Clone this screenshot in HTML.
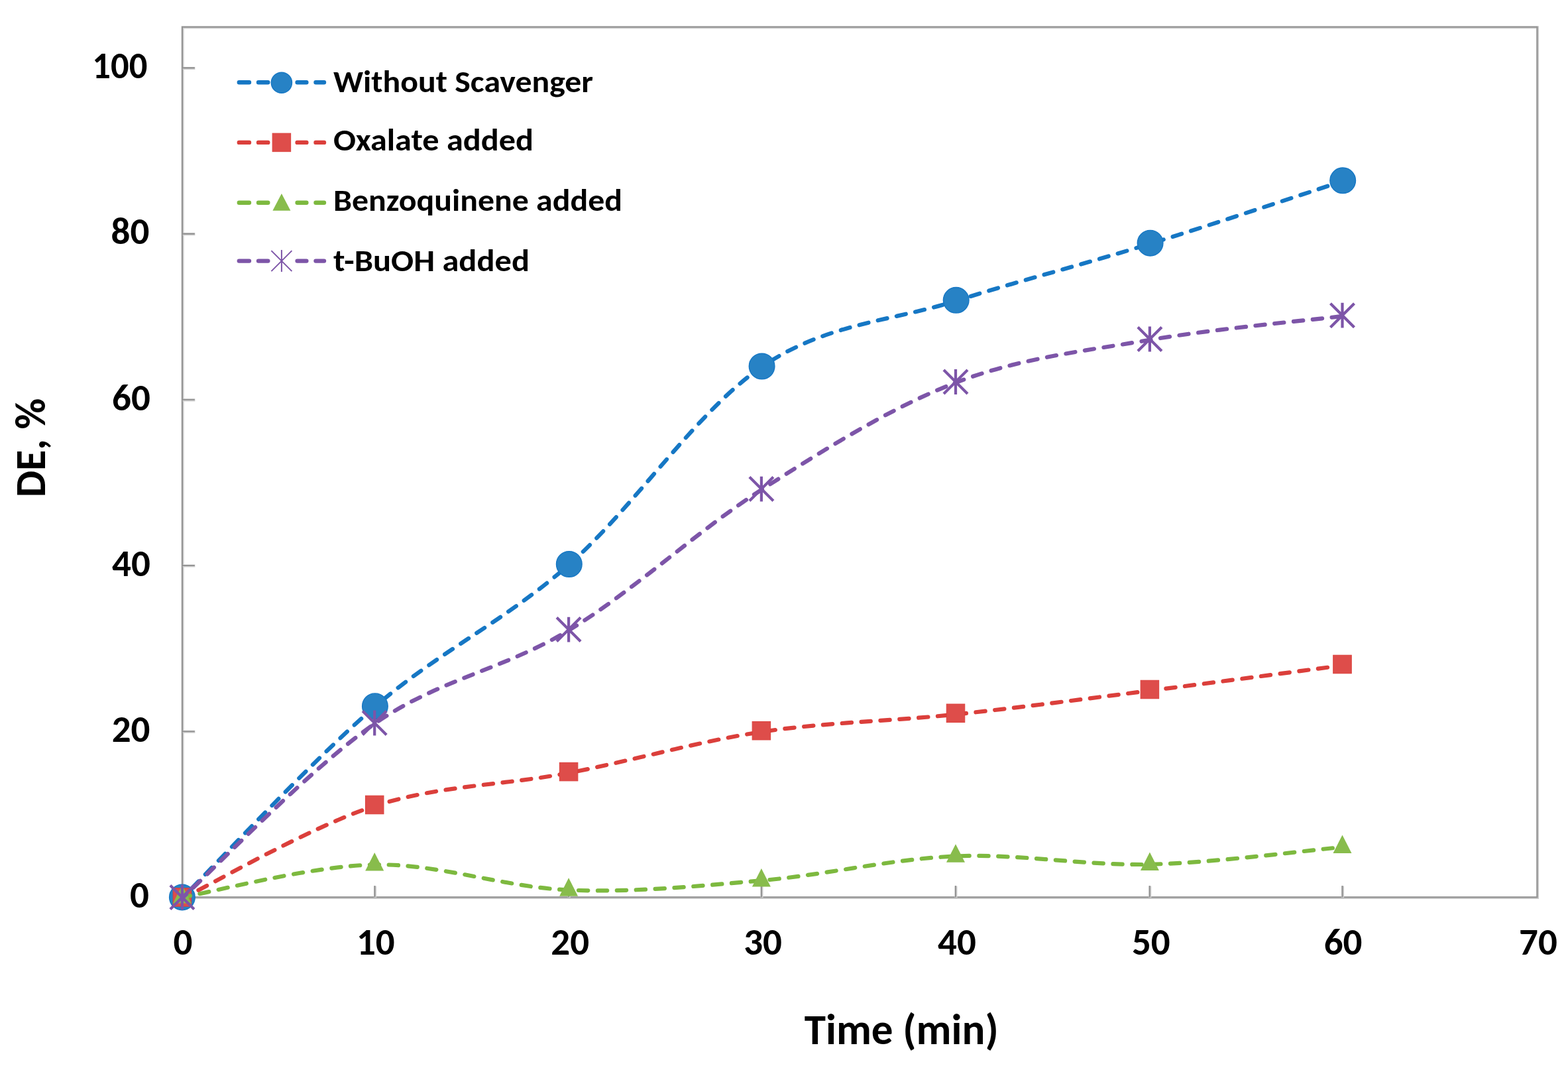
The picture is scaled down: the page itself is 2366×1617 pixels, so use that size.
<!DOCTYPE html><html><head><meta charset="utf-8"><title>DE vs Time</title><style>html,body{margin:0;padding:0;background:#fff;overflow:hidden}svg{display:block}text{font-size-adjust:0.4849}</style></head><body>
<svg width="2366" height="1617" viewBox="0 0 2366 1617">
<rect width="2366" height="1617" fill="#fff"/>
<rect x="275.60" y="41.30" width="2044.50" height="1312.70" fill="none" stroke="#cfcfcf" stroke-width="4"/>
<rect x="275.00" y="40.70" width="2044.50" height="1312.70" fill="none" stroke="#939393" stroke-width="2.1"/>
<path d="M275.00,1103.20 H293.8 M275.00,853.00 H293.8 M275.00,602.80 H293.8 M275.00,352.60 H293.8 M275.00,102.40 H293.8 M565.40,1353.40 V1336 M858.10,1353.40 V1336 M1148.90,1353.40 V1336 M1441.90,1353.40 V1336 M1734.70,1353.40 V1336 M2025.50,1353.40 V1336" stroke="#cfcfcf" stroke-width="4" fill="none" transform="translate(0.6,0.6)"/>
<path d="M275.00,1103.20 H293.8 M275.00,853.00 H293.8 M275.00,602.80 H293.8 M275.00,352.60 H293.8 M275.00,102.40 H293.8 M565.40,1353.40 V1336 M858.10,1353.40 V1336 M1148.90,1353.40 V1336 M1441.90,1353.40 V1336 M1734.70,1353.40 V1336 M2025.50,1353.40 V1336" stroke="#939393" stroke-width="2.1" fill="none"/>
<path d="M274.90,1354.60 C323.28,1306.57 468.00,1150.13 565.20,1066.40 C662.40,982.67 760.82,937.65 858.10,852.20 C955.38,766.75 1051.58,620.07 1148.90,553.70 C1246.22,487.33 1344.33,484.97 1442.00,454.00 C1539.67,423.03 1637.65,397.98 1734.90,367.90 C1832.15,337.82 1977.07,289.23 2025.50,273.50" fill="none" stroke="#1677C4" stroke-width="6.2" stroke-dasharray="14.30 14.62" stroke-dashoffset="7.80" stroke-linecap="round"/>
<circle cx="274.90" cy="1353.40" r="19.30" fill="#2782C5" stroke="#1677C4" stroke-width="1.4"/>
<circle cx="565.90" cy="1065.20" r="19.30" fill="#2782C5" stroke="#1677C4" stroke-width="1.4"/>
<circle cx="858.80" cy="851.00" r="19.30" fill="#2782C5" stroke="#1677C4" stroke-width="1.4"/>
<circle cx="1149.60" cy="552.50" r="19.30" fill="#2782C5" stroke="#1677C4" stroke-width="1.4"/>
<circle cx="1442.70" cy="452.80" r="19.30" fill="#2782C5" stroke="#1677C4" stroke-width="1.4"/>
<circle cx="1735.60" cy="366.70" r="19.30" fill="#2782C5" stroke="#1677C4" stroke-width="1.4"/>
<circle cx="2026.20" cy="272.30" r="19.30" fill="#2782C5" stroke="#1677C4" stroke-width="1.4"/>
<path d="M274.90,1355.20 C323.28,1331.97 468.00,1247.35 565.20,1215.80 C662.40,1184.25 760.82,1184.53 858.10,1165.90 C955.38,1147.27 1051.58,1118.72 1148.90,1104.00 C1246.22,1089.28 1344.33,1087.97 1442.00,1077.60 C1539.67,1067.23 1637.65,1054.10 1734.90,1041.80 C1832.15,1029.50 1977.07,1010.13 2025.50,1003.80" fill="none" stroke="#DB3F3B" stroke-width="6.2" stroke-dasharray="14.30 14.62" stroke-dashoffset="1.30" stroke-linecap="round"/>
<rect x="261.15" y="1339.65" width="27.50" height="27.50" fill="#DE4D4A" stroke="#DB3F3B" stroke-width="1"/>
<rect x="551.45" y="1200.25" width="27.50" height="27.50" fill="#DE4D4A" stroke="#DB3F3B" stroke-width="1"/>
<rect x="844.35" y="1150.35" width="27.50" height="27.50" fill="#DE4D4A" stroke="#DB3F3B" stroke-width="1"/>
<rect x="1135.15" y="1088.45" width="27.50" height="27.50" fill="#DE4D4A" stroke="#DB3F3B" stroke-width="1"/>
<rect x="1428.25" y="1062.05" width="27.50" height="27.50" fill="#DE4D4A" stroke="#DB3F3B" stroke-width="1"/>
<rect x="1721.15" y="1026.25" width="27.50" height="27.50" fill="#DE4D4A" stroke="#DB3F3B" stroke-width="1"/>
<rect x="2011.75" y="988.25" width="27.50" height="27.50" fill="#DE4D4A" stroke="#DB3F3B" stroke-width="1"/>
<path d="M274.90,1353.40 C323.28,1345.22 468.00,1306.12 565.20,1304.30 C662.40,1302.48 760.82,1338.52 858.10,1342.50 C955.38,1346.48 1051.58,1336.70 1148.90,1328.20 C1246.22,1319.70 1344.33,1295.57 1442.00,1291.50 C1539.67,1287.43 1637.65,1306.08 1734.90,1303.80 C1832.15,1301.52 1977.07,1282.13 2025.50,1277.80" fill="none" stroke="#7DB93F" stroke-width="6.2" stroke-dasharray="14.30 14.62" stroke-dashoffset="1.80" stroke-linecap="round"/>
<polygon points="274.90,1335.10 288.90,1362.60 260.90,1362.60" fill="#88BC4C"/>
<polygon points="565.20,1286.00 579.20,1313.50 551.20,1313.50" fill="#88BC4C"/>
<polygon points="858.10,1324.20 872.10,1351.70 844.10,1351.70" fill="#88BC4C"/>
<polygon points="1148.90,1309.90 1162.90,1337.40 1134.90,1337.40" fill="#88BC4C"/>
<polygon points="1442.00,1273.20 1456.00,1300.70 1428.00,1300.70" fill="#88BC4C"/>
<polygon points="1734.90,1285.50 1748.90,1313.00 1720.90,1313.00" fill="#88BC4C"/>
<polygon points="2025.50,1259.50 2039.50,1287.00 2011.50,1287.00" fill="#88BC4C"/>
<path d="M274.90,1354.60 C323.28,1310.78 468.00,1159.00 565.20,1091.70 C662.40,1024.40 760.82,1009.62 858.10,950.80 C955.38,891.98 1051.58,801.07 1148.90,738.80 C1246.22,676.53 1344.33,614.88 1442.00,577.20 C1539.67,539.52 1637.65,529.42 1734.90,512.70 C1832.15,495.98 1977.07,482.87 2025.50,476.90" fill="none" stroke="#7D55A8" stroke-width="6.2" stroke-dasharray="14.30 14.62" stroke-dashoffset="5.40" stroke-linecap="round"/>
<path d="M256.90,1335.40 L292.90,1371.40 M292.90,1335.40 L256.90,1371.40 M274.90,1334.50 L274.90,1372.30" stroke="#7D55A8" stroke-width="4.2" fill="none"/>
<path d="M547.20,1072.50 L583.20,1108.50 M583.20,1072.50 L547.20,1108.50 M565.20,1071.60 L565.20,1109.40" stroke="#7D55A8" stroke-width="4.2" fill="none"/>
<path d="M840.10,931.60 L876.10,967.60 M876.10,931.60 L840.10,967.60 M858.10,930.70 L858.10,968.50" stroke="#7D55A8" stroke-width="4.2" fill="none"/>
<path d="M1130.90,719.60 L1166.90,755.60 M1166.90,719.60 L1130.90,755.60 M1148.90,718.70 L1148.90,756.50" stroke="#7D55A8" stroke-width="4.2" fill="none"/>
<path d="M1424.00,558.00 L1460.00,594.00 M1460.00,558.00 L1424.00,594.00 M1442.00,557.10 L1442.00,594.90" stroke="#7D55A8" stroke-width="4.2" fill="none"/>
<path d="M1716.90,493.50 L1752.90,529.50 M1752.90,493.50 L1716.90,529.50 M1734.90,492.60 L1734.90,530.40" stroke="#7D55A8" stroke-width="4.2" fill="none"/>
<path d="M2007.50,457.70 L2043.50,493.70 M2043.50,457.70 L2007.50,493.70 M2025.50,456.80 L2025.50,494.60" stroke="#7D55A8" stroke-width="4.2" fill="none"/>
<g font-family="Carlito, 'Liberation Sans', sans-serif" font-weight="bold" font-size="57" fill="#000">
<text x="225.00" y="1369.10" text-anchor="end">0</text>
<text x="226.50" y="1118.90" text-anchor="end">20</text>
<text x="226.80" y="868.70" text-anchor="end">40</text>
<text x="226.80" y="618.50" text-anchor="end">60</text>
<text x="225.30" y="368.30" text-anchor="end">80</text>
<text x="222.30" y="118.10" text-anchor="end" textLength="83" lengthAdjust="spacingAndGlyphs">100</text>
<text x="276.00" y="1440.4" text-anchor="middle">0</text>
<text x="566.80" y="1440.4" text-anchor="middle">10</text>
<text x="860.20" y="1440.4" text-anchor="middle">20</text>
<text x="1151.10" y="1440.4" text-anchor="middle">30</text>
<text x="1444.00" y="1440.4" text-anchor="middle">40</text>
<text x="1736.80" y="1440.4" text-anchor="middle">50</text>
<text x="2026.60" y="1440.4" text-anchor="middle">60</text>
<text x="2320.90" y="1440.4" text-anchor="middle">70</text>
</g>
<text x="1360.2" y="1574.6" text-anchor="middle" font-family="Carlito, 'Liberation Sans', sans-serif" font-weight="bold" font-size="64" textLength="293" lengthAdjust="spacingAndGlyphs">Time (min)</text>
<text transform="translate(67.6,675.6) rotate(-90)" x="0" y="0" text-anchor="middle" font-family="Carlito, 'Liberation Sans', sans-serif" font-weight="bold" font-size="65" textLength="149.5" lengthAdjust="spacingAndGlyphs">DE, %</text>
<path d="M360.8,124.30 H376.0 M390.0,124.30 H404.3 M448.6,124.30 H462.4 M476.5,124.30 H489.0" stroke="#1677C4" stroke-width="6.4" stroke-linecap="round" fill="none"/>
<circle cx="424.90" cy="124.80" r="15.60" fill="#2782C5" stroke="#1677C4" stroke-width="1.4"/>
<text x="503.0" y="139.10" font-family="Carlito, 'Liberation Sans', sans-serif" font-weight="bold" font-size="47.4" textLength="392.0" lengthAdjust="spacingAndGlyphs">Without Scavenger</text>
<path d="M360.8,214.90 H376.0 M390.0,214.90 H404.3 M448.6,214.90 H462.4 M476.5,214.90 H489.0" stroke="#DB3F3B" stroke-width="6.4" stroke-linecap="round" fill="none"/>
<rect x="411.15" y="201.15" width="27.50" height="27.50" fill="#DE4D4A" stroke="#DB3F3B" stroke-width="1"/>
<text x="503.0" y="227.30" font-family="Carlito, 'Liberation Sans', sans-serif" font-weight="bold" font-size="47.4" textLength="302.0" lengthAdjust="spacingAndGlyphs">Oxalate added</text>
<path d="M360.8,305.80 H376.0 M390.0,305.80 H404.3 M448.6,305.80 H462.4 M476.5,305.80 H489.0" stroke="#7DB93F" stroke-width="6.4" stroke-linecap="round" fill="none"/>
<polygon points="424.90,291.90 438.40,317.70 411.40,317.70" fill="#88BC4C"/>
<text x="503.0" y="318.10" font-family="Carlito, 'Liberation Sans', sans-serif" font-weight="bold" font-size="47.4" textLength="436.0" lengthAdjust="spacingAndGlyphs">Benzoquinene added</text>
<path d="M360.8,393.60 H376.0 M390.0,393.60 H404.3 M448.6,393.60 H462.4 M476.5,393.60 H489.0" stroke="#7D55A8" stroke-width="6.4" stroke-linecap="round" fill="none"/>
<path d="M409.40,378.10 L440.40,409.10 M440.40,378.10 L409.40,409.10 M424.90,377.10 L424.90,410.10" stroke="#7D55A8" stroke-width="2.0" fill="none"/>
<text x="503.0" y="408.50" font-family="Carlito, 'Liberation Sans', sans-serif" font-weight="bold" font-size="47.4" textLength="296.0" lengthAdjust="spacingAndGlyphs">t-BuOH added</text>
</svg></body></html>
